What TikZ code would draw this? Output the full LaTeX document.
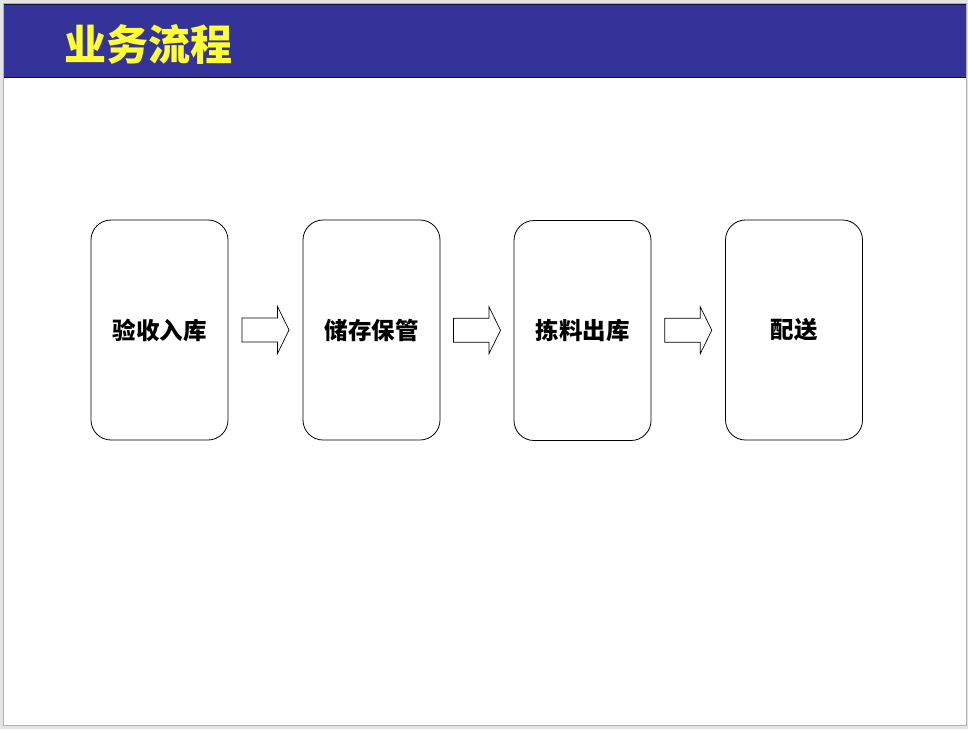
\documentclass[tikz,border=0pt]{standalone}
\usepackage{fontspec}
\newfontfamily\cjk{Noto Sans CJK SC}
\definecolor{bandblue}{HTML}{333399}
\definecolor{titleyellow}{HTML}{FFFF33}
\definecolor{outergray}{HTML}{E4E4E4}
\tikzset{
  stagebox/.style={draw=black, line width=0.8pt, rounded corners=20pt, fill=white, minimum width=137pt, minimum height=220pt, inner sep=0pt, font=\cjk\bfseries\fontsize{23.5}{26}\selectfont},
  blockarrow/.style={draw=black, line width=0.7pt, fill=white}
}
\begin{document}
\begin{tikzpicture}[x=1pt,y=-1pt]
\fill[outergray] (0,0) rectangle (968,729);
\draw[fill=white, draw=gray!60, line width=0.8pt] (3,3) rectangle (966,725);
\fill[bandblue] (4,4) rectangle (966,77);
\draw[black!70!bandblue, line width=0.8pt] (4,4) -- (966,4);
\draw[black!70!bandblue, line width=0.8pt] (4,77) -- (966,77);
\node[anchor=west, text=titleyellow, inner sep=0pt, font=\cjk\bfseries\fontsize{42}{46}\selectfont] (title) at (64,44) {业务流程};
\node[stagebox] (s1) at (159.5,330) {验收入库};
\node[stagebox] (s2) at (371.5,330) {储存保管};
\node[stagebox] (s3) at (582.5,330.5) {拣料出库};
\node[stagebox] (s4) at (794,330) {配送};
\foreach \a/\b in {s1/s2,s2/s3,s3/s4}{
  \path (\a.east) -- (\b.west) coordinate[pos=0.5] (m\a);
  \draw[blockarrow] ([xshift=-23.5pt,yshift=-12pt]m\a) -- ([xshift=12pt,yshift=-12pt]m\a) -- ([xshift=12pt,yshift=-23.5pt]m\a) -- ([xshift=23.5pt]m\a) -- ([xshift=12pt,yshift=23.5pt]m\a) -- ([xshift=12pt,yshift=12pt]m\a) -- ([xshift=-23.5pt,yshift=12pt]m\a) -- cycle;
}
\end{tikzpicture}
\end{document}
